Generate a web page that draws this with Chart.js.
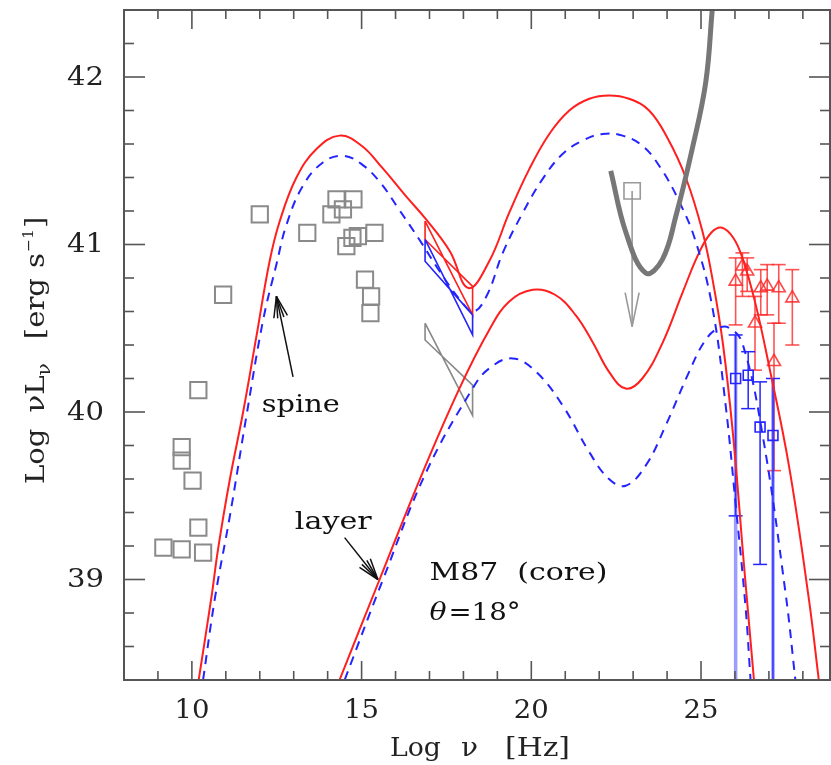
<!DOCTYPE html>
<html lang="en">
<head>
<meta charset="UTF-8">
<title>M87 core SED</title>
<script src="https://cdn.jsdelivr.net/npm/chart.js"></script>
<style>
    body { margin: 0; background: #fff; }
    #wrap { width: 831px; height: 765px; }
</style>
</head>
<body>
<div id="wrap"><canvas id="sed" width="831" height="765"></canvas></div>
<script>
// model curves, pairs of [log nu, log nuLnu]
const spineSolid = [[10.2,38.4],[10.58,38.9],[10.77,39.18],[11.12,39.6],[11.51,40.0],[11.9,40.45],[12.29,40.9],[12.59,41.14],[13.08,41.4],[13.67,41.57],[14.35,41.65],[15.0,41.59],[15.6,41.46],[16.3,41.29],[16.9,41.15],[17.6,40.96],[18.15,40.74],[18.76,40.9],[19.35,41.19],[19.94,41.45],[20.53,41.66],[21.12,41.8],[21.71,41.87],[22.29,41.89],[22.88,41.87],[23.47,41.8],[24.0,41.64],[24.55,41.4],[25.04,41.08],[25.35,40.78],[25.65,40.4],[25.95,39.85],[26.26,39.1],[26.56,38.4]];
const spineDashed = [[10.33,38.4],[10.68,38.89],[11.12,39.38],[11.61,39.98],[12.1,40.55],[12.49,40.88],[12.79,41.12],[13.27,41.35],[13.86,41.49],[14.45,41.53],[15.0,41.48],[15.55,41.37],[16.1,41.21],[16.7,41.03],[17.3,40.84],[17.9,40.67],[18.3,40.6],[18.7,40.7],[19.16,40.95],[19.75,41.19],[20.33,41.39],[20.92,41.54],[21.51,41.62],[22.1,41.66],[22.69,41.65],[23.27,41.59],[23.8,41.46],[24.35,41.26],[24.84,41.02],[25.33,40.63],[25.72,40.05],[26.02,39.45],[26.31,38.84],[26.46,38.4]];
const layerSolid = [[14.35,38.4],[15.53,39.0],[16.8,39.64],[17.88,40.14],[18.76,40.49],[19.35,40.66],[20.04,40.73],[20.7,40.7],[21.3,40.58],[21.8,40.42],[22.29,40.24],[22.78,40.14],[23.27,40.2],[23.86,40.41],[24.45,40.71],[24.94,40.95],[25.3,41.07],[25.62,41.1],[25.95,41.04],[26.22,40.92],[26.6,40.65],[27.0,40.28],[27.59,39.68],[28.18,38.88],[28.47,38.4]];
const layerDashed = [[14.5,38.4],[15.63,39.0],[16.9,39.64],[18.27,40.14],[18.76,40.26],[19.45,40.32],[20.14,40.24],[20.92,40.04],[21.71,39.76],[22.29,39.6],[22.78,39.56],[23.37,39.68],[23.96,39.92],[24.65,40.24],[25.1,40.42],[25.5,40.5],[25.85,40.5],[26.22,40.41],[26.8,39.88],[27.49,38.92],[27.78,38.4]];
const sensitivity = [[22.34,41.44],[22.79,41.07],[23.37,40.83],[23.86,40.91],[24.26,41.17],[24.74,41.57],[25.14,41.97],[25.33,42.4]];

// radio to optical data
const archiveX = [9.16, 9.7, 10.33, 10.19, 10.02, 9.7, 9.7, 10.19, 10.92, 12.0, 13.4, 14.11, 14.26, 14.45, 14.76, 14.55, 14.73, 14.89, 15.38, 15.1, 15.28, 15.26];
const archiveY = [39.19, 39.18, 39.16, 39.31, 39.59, 39.71, 39.79, 40.13, 40.70, 41.18, 41.07, 41.18, 41.27, 41.21, 41.27, 40.99, 41.04, 41.05, 41.07, 40.79, 40.69, 40.59];
const gevLimit = [22.97, 41.32, 40.51];

// X-ray bowties: left x, right x, then [leftTop, leftBottom, rightTop, rightBottom]
const bowX = [16.87, 18.27];
const bowRed = [41.14, 41.03, 40.75, 40.58];
const bowBlue = [41.03, 40.90, 40.58, 40.46];
const bowGray = [40.53, 40.43, 40.16, 39.98];

// VHE data
const redX = [26.02, 26.22, 26.36, 26.59, 26.76, 26.95, 27.15, 27.29, 27.69];
const redY = [40.78, 40.87, 40.84, 40.53, 40.74, 40.75, 40.30, 40.74, 40.68];
const redHi = [40.92, 40.95, 40.92, 40.69, 40.85, 40.88, 40.53, 40.88, 40.85];
const redLo = [40.52, 40.69, 40.72, 40.25, 40.58, 40.58, 39.65, 40.53, 40.40];
const blueX = [26.02, 26.39, 26.74, 27.12];
const blueY = [40.20, 40.22, 39.91, 39.86];
const blueHi = [40.46, 40.36, 40.18, 40.20];
const blueLo = [39.38, 40.02, 39.09, 38.0];
const blueDeep = [true, false, false, true];

const xMajor = [10, 15, 20, 25];
const xTickLabels = ['10', '15', '20', '25'];
const yMajor = [39, 40, 41, 42];
const yTickLabels = ['39', '40', '41', '42'];

const RED = '#ff1f1f';
const BLUE = '#2424ff';
const SERIF = '"DejaVu Serif", "Liberation Serif", serif';

const pts = arr => arr.map(p => ({ x: p[0], y: p[1] }));
const curve = (arr, color, dashed, width) => ({
    data: pts(arr), showLine: true, borderColor: color, borderWidth: width || 2,
    borderDash: dashed ? [9, 7] : [], pointRadius: 0, tension: 0.4, fill: false
});
const bowtie = (ys, color) => ({
    data: [
        { x: bowX[0], y: ys[0] }, { x: bowX[1], y: ys[3] }, { x: bowX[1], y: ys[2] },
        { x: bowX[0], y: ys[1] }, { x: bowX[0], y: ys[0] }
    ],
    showLine: true, borderColor: color, borderWidth: 1.6, pointRadius: 0, tension: 0, fill: false
});

function line(ctx, x1, y1, x2, y2) {
    ctx.beginPath(); ctx.moveTo(x1, y1); ctx.lineTo(x2, y2); ctx.stroke();
}

function arrow(ctx, x1, y1, x2, y2) {
    line(ctx, x1, y1, x2, y2);
    const ang = Math.atan2(y2 - y1, x2 - x1);
    for (const s of [-1, -0.45, 0.45, 1]) {
        const a = ang + Math.PI - s * 0.32;
        line(ctx, x2, y2, x2 + 22 * Math.cos(a), y2 + 22 * Math.sin(a));
    }
}

// text stretched to a given width (the original face is wider than DejaVu)
function fitText(ctx, t, x, y, width) {
    const sx = width / ctx.measureText(t).width;
    ctx.save();
    ctx.translate(x, y);
    ctx.scale(sx, 1);
    ctx.fillText(t, 0, 0);
    ctx.restore();
}

const extras = {
    id: 'extras',
    beforeDatasetsDraw(chart) {
        const { ctx, chartArea: a, scales: { x, y } } = chart;
        ctx.save();
        ctx.beginPath();
        ctx.rect(a.left, a.top, a.right - a.left, a.bottom - a.top);
        ctx.clip();
        // error bars
        ctx.strokeStyle = 'rgba(255,40,40,0.8)';
        ctx.lineWidth = 1.6;
        redX.forEach((v, i) => {
            const px = x.getPixelForValue(v);
            const hi = y.getPixelForValue(redHi[i]), lo = y.getPixelForValue(redLo[i]);
            line(ctx, px, hi, px, lo);
            line(ctx, px - 7, hi, px + 7, hi);
            line(ctx, px - 7, lo, px + 7, lo);
        });
        blueX.forEach((v, i) => {
            const px = x.getPixelForValue(v);
            const hi = y.getPixelForValue(blueHi[i]), lo = y.getPixelForValue(blueLo[i]);
            ctx.strokeStyle = BLUE; ctx.lineWidth = 1.5;
            line(ctx, px, hi, px, lo);
            line(ctx, px - 7, hi, px + 7, hi);
            if (blueLo[i] > y.min) line(ctx, px - 7, lo, px + 7, lo);
            if (blueDeep[i]) {
                ctx.strokeStyle = 'rgba(60,60,255,0.5)'; ctx.lineWidth = 3.5;
                line(ctx, px, hi, px, a.bottom);
            }
        });
        // GeV upper limit
        const gx = x.getPixelForValue(gevLimit[0]);
        const gy1 = y.getPixelForValue(gevLimit[1]), gy2 = y.getPixelForValue(gevLimit[2]);
        ctx.strokeStyle = '#999'; ctx.lineWidth = 1.6;
        line(ctx, gx, gy1, gx, gy2);
        line(ctx, gx, gy2, gx - 7, gy2 - 34);
        line(ctx, gx, gy2, gx + 7, gy2 - 34);
        ctx.restore();
    },
    afterDatasetsDraw(chart) {
        const { ctx, chartArea: a, scales: { x, y } } = chart;
        ctx.save();
        // frame and inward ticks
        ctx.strokeStyle = '#555';
        ctx.lineWidth = 2;
        ctx.strokeRect(a.left, a.top, a.right - a.left, a.bottom - a.top);
        ctx.lineWidth = 1.6;
        for (let v = 9; v <= 28; v++) {
            const px = x.getPixelForValue(v);
            const len = xMajor.includes(v) ? 19 : 9;
            line(ctx, px, a.bottom, px, a.bottom - len);
            line(ctx, px, a.top, px, a.top + len);
        }
        for (let k = 193; k <= 212; k++) {
            const py = y.getPixelForValue(k / 5);
            const len = k % 5 === 0 ? 21 : 10;
            line(ctx, a.left, py, a.left + len, py);
            line(ctx, a.right, py, a.right - len, py);
        }
        // tick labels
        ctx.fillStyle = '#222';
        ctx.font = '26px ' + SERIF;
        ctx.textAlign = 'center';
        ctx.textBaseline = 'alphabetic';
        xMajor.forEach((v, i) => fitText(ctx, xTickLabels[i], x.getPixelForValue(v), 718, 35));
        ctx.textAlign = 'right';
        ctx.textBaseline = 'middle';
        yMajor.forEach((v, i) => fitText(ctx, yTickLabels[i], 104, y.getPixelForValue(v) + 1, 37));

        // x title
        ctx.textAlign = 'left';
        ctx.textBaseline = 'alphabetic';
        ctx.font = '26px ' + SERIF;
        fitText(ctx, 'Log', 390, 756, 51);
        fitText(ctx, '\u03bd', 461, 756, 17);
        fitText(ctx, '[Hz]', 505, 756, 65);

        // y title, rotated, pieces laid out one after another
        ctx.save();
        ctx.translate(44, 484);
        ctx.rotate(-Math.PI / 2);
        const pieces = [
            ['Log', 26, 0, 0], ['\u03bdL', 26, 0, 16], ['\u03bd', 18, 6, 0],
            ['[erg', 26, 0, 24], ['s', 26, 0, 10], ['\u22121', 14, -11, 1], [']', 26, 0, 1]
        ];
        let cx = 0;
        pieces.forEach(([t, size, dy, gap]) => {
            cx += gap;
            ctx.font = size + 'px ' + SERIF;
            const w = ctx.measureText(t).width * 1.12;
            fitText(ctx, t, cx, dy, w);
            cx += w;
        });
        ctx.restore();

        // annotations
        ctx.strokeStyle = '#111';
        ctx.lineWidth = 1.5;
        arrow(ctx, x.getPixelForValue(12.98), y.getPixelForValue(40.21), x.getPixelForValue(12.49), y.getPixelForValue(40.69));
        arrow(ctx, x.getPixelForValue(14.5), y.getPixelForValue(39.25), x.getPixelForValue(15.48), y.getPixelForValue(39.0));
        ctx.fillStyle = '#111';
        ctx.font = '25px ' + SERIF;
        fitText(ctx, 'spine', x.getPixelForValue(12.06), y.getPixelForValue(40.0), 78);
        fitText(ctx, 'layer', x.getPixelForValue(13.03), y.getPixelForValue(39.3), 77);
        const tx = x.getPixelForValue(17.0);
        fitText(ctx, 'M87  (core)', tx, y.getPixelForValue(39.0), 178);
        ctx.font = 'italic 25px ' + SERIF;
        fitText(ctx, '\u03b8', tx, y.getPixelForValue(38.76), 17);
        ctx.font = '25px ' + SERIF;
        fitText(ctx, '=18\u00b0', tx + 19, y.getPixelForValue(38.76), 72);
        ctx.restore();
    }
};

new Chart(document.getElementById('sed'), {
    type: 'scatter',
    data: {
        datasets: [
            curve(sensitivity, '#777', false, 5),
            curve(layerDashed, BLUE, true),
            curve(spineDashed, BLUE, true),
            curve(layerSolid, RED, false),
            curve(spineSolid, RED, false),
            bowtie(bowGray, '#888'),
            bowtie(bowBlue, BLUE),
            bowtie(bowRed, RED),
            {
                data: archiveX.map((v, i) => ({ x: v, y: archiveY[i] })),
                pointStyle: 'rect', pointRadius: 11.5, borderColor: '#8a8a8a', borderWidth: 2,
                backgroundColor: 'rgba(0,0,0,0)'
            },
            {
                data: [{ x: gevLimit[0], y: gevLimit[1] }],
                pointStyle: 'rect', pointRadius: 11.5, borderColor: '#999', borderWidth: 1.6,
                backgroundColor: 'rgba(0,0,0,0)'
            },
            {
                data: redX.map((v, i) => ({ x: v, y: redY[i] })),
                pointStyle: 'triangle', pointRadius: 7.5, borderColor: 'rgba(255,40,40,0.85)', borderWidth: 1.6,
                backgroundColor: 'rgba(0,0,0,0)'
            },
            {
                data: blueX.map((v, i) => ({ x: v, y: blueY[i] })),
                pointStyle: 'rect', pointRadius: 7, borderColor: BLUE, borderWidth: 1.6,
                backgroundColor: 'rgba(0,0,0,0)'
            }
        ]
    },
    options: {
        responsive: false,
        animation: false,
        events: [],
        layout: { autoPadding: false, padding: { left: 124, top: 10, right: 1, bottom: 85 } },
        plugins: { legend: { display: false }, tooltip: { enabled: false } },
        scales: {
            x: { type: 'linear', min: 8, max: 28.8, display: false },
            y: { type: 'linear', min: 38.4, max: 42.4, display: false }
        }
    },
    plugins: [extras]
});
</script>
</body>
</html>
